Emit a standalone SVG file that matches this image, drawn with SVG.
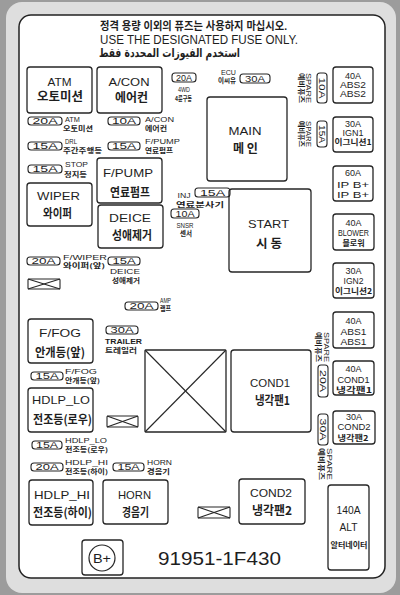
<svg xmlns="http://www.w3.org/2000/svg" width="400" height="595" viewBox="0 0 400 595">
<style>
.bx{fill:none;stroke:#262626;stroke-width:1.3}
.fu{fill:none;stroke:#262626;stroke-width:1.1}
.ln{stroke:#262626;stroke-width:1.1}
text{font-family:"Liberation Sans","Noto Sans CJK KR",sans-serif;fill:#1e1e1e}
.c{text-anchor:middle}
.e{text-anchor:end}
.L{font-size:11.5px}
.K{font-size:12px;font-weight:bold;font-family:"Noto Sans CJK KR",sans-serif}
.m{font-size:9px;text-anchor:middle}
.mk{font-size:7.5px;font-weight:bold;font-family:"Noto Sans CJK KR",sans-serif;text-anchor:middle}
.ft{font-size:8.5px;text-anchor:middle}
.s{font-size:6.5px}
.sk{font-size:6.3px;font-weight:bold;font-family:"Noto Sans CJK KR",sans-serif}
</style>
<rect x="0" y="0" width="400" height="595" fill="#9c9c9c"/>
<rect x="6" y="2" width="390" height="591" rx="16" fill="#dedede"/>
<rect x="19" y="15" width="366" height="563" rx="12" fill="#fff" stroke="#222" stroke-width="1.5"/>

<g id="header">
<text class="c" x="193.5" y="30" font-size="11" font-family="Noto Sans CJK KR,sans-serif" font-weight="bold" textLength="187" lengthAdjust="spacingAndGlyphs">정격 용량 이외의 퓨즈는 사용하지 마십시오.</text>
<text class="c" x="199" y="43.5" font-size="12" fill="#333" textLength="198" lengthAdjust="spacingAndGlyphs">USE THE DESIGNATED FUSE ONLY.</text>
<text class="c" x="169.5" y="56.5" font-size="12" font-weight="bold" style="font-family:'DejaVu Sans',sans-serif" textLength="141" lengthAdjust="spacingAndGlyphs">استخدم الفيوزات المحددة فقط</text>
</g>

<g id="connectors"></g>

<!-- big boxes -->
<g id="atm"><rect class="bx" x="27" y="67" width="65" height="46" rx="3"/>
<text class="c L" x="59.5" y="86" textLength="24" lengthAdjust="spacingAndGlyphs">ATM</text>
<text class="c K" x="60" y="100.6" textLength="46" lengthAdjust="spacingAndGlyphs">오토미션</text></g>
<g id="acon"><rect class="bx" x="97" y="67" width="65" height="46" rx="3"/>
<text class="c L" x="129" y="86" textLength="41" lengthAdjust="spacingAndGlyphs">A/CON</text>
<text class="c K" x="131.5" y="101.5" textLength="33" lengthAdjust="spacingAndGlyphs">에어컨</text></g>
<g id="fpump"><rect class="bx" x="97" y="158" width="65" height="45" rx="3"/>
<text class="c L" x="128" y="177" textLength="50" lengthAdjust="spacingAndGlyphs">F/PUMP</text>
<text class="c K" x="130" y="196.5" textLength="40" lengthAdjust="spacingAndGlyphs">연료펌프</text></g>
<g id="wiper"><rect class="bx" x="27" y="183" width="65" height="43" rx="3"/>
<text class="c L" x="58.5" y="200" textLength="43" lengthAdjust="spacingAndGlyphs">WIPER</text>
<text class="c K" x="57.5" y="217.5" textLength="29" lengthAdjust="spacingAndGlyphs">와이퍼</text></g>
<g id="deice"><rect class="bx" x="98" y="205" width="65" height="43" rx="3"/>
<text class="c L" x="130" y="222" textLength="42" lengthAdjust="spacingAndGlyphs">DEICE</text>
<text class="c K" x="132" y="239.5" textLength="40" lengthAdjust="spacingAndGlyphs">성애제거</text></g>
<g id="main"><rect class="bx" x="207" y="97" width="80" height="84" rx="3"/>
<text class="c L" x="245" y="135" textLength="33" lengthAdjust="spacingAndGlyphs">MAIN</text>
<text class="c K" x="245.5" y="152.5" textLength="25" lengthAdjust="spacingAndGlyphs">메 인</text></g>
<g id="start"><rect class="bx" x="229" y="189" width="82" height="83" rx="3"/>
<text class="c L" x="268.5" y="228" textLength="41" lengthAdjust="spacingAndGlyphs">START</text>
<text class="c K" x="269" y="247.5" textLength="26" lengthAdjust="spacingAndGlyphs">시 동</text></g>
<g id="ffog"><rect class="bx" x="28" y="319" width="65" height="44" rx="3"/>
<text class="c L" x="60" y="337" textLength="42" lengthAdjust="spacingAndGlyphs">F/FOG</text>
<text class="c K" x="60" y="356.5" textLength="50" lengthAdjust="spacingAndGlyphs">안개등(앞)</text></g>
<g id="hdlp-lo"><rect class="bx" x="28" y="388" width="65" height="44" rx="3"/>
<text class="c L" x="61" y="404" textLength="58" lengthAdjust="spacingAndGlyphs">HDLP_LO</text>
<text class="c K" x="62.5" y="423.5" textLength="59" lengthAdjust="spacingAndGlyphs">전조등(로우)</text></g>
<g id="hdlp-hi"><rect class="bx" x="29" y="480" width="64" height="45" rx="3"/>
<text class="c L" x="62" y="499" textLength="56" lengthAdjust="spacingAndGlyphs">HDLP_HI</text>
<text class="c K" x="62.5" y="516.5" textLength="59" lengthAdjust="spacingAndGlyphs">전조등(하이)</text></g>
<g id="horn"><rect class="bx" x="103" y="480" width="65" height="44" rx="3"/>
<text class="c L" x="134.5" y="499" textLength="33" lengthAdjust="spacingAndGlyphs">HORN</text>
<text class="c K" x="135.5" y="516.5" textLength="27" lengthAdjust="spacingAndGlyphs">경음기</text></g>
<g id="cond2"><rect class="bx" x="239" y="479" width="66" height="45" rx="3"/>
<text class="c L" x="271" y="497" textLength="42" lengthAdjust="spacingAndGlyphs">COND2</text>
<text class="c K" x="272" y="514.5" textLength="40" lengthAdjust="spacingAndGlyphs">냉각팬2</text></g>
<g id="cond1"><rect class="bx" x="231" y="350" width="80" height="82" rx="3"/>
<text class="c L" x="270" y="387" textLength="40" lengthAdjust="spacingAndGlyphs">COND1</text>
<text class="c K" x="272.5" y="404.5" textLength="35" lengthAdjust="spacingAndGlyphs">냉각팬1</text></g>
<g id="blank-relay"><rect class="bx" x="145" y="350" width="81" height="82" rx="1"/>
<line class="ln" x1="145" y1="350" x2="226" y2="432"/><line class="ln" x1="226" y1="350" x2="145" y2="432"/></g>

<!-- right column -->
<g id="abs2"><rect class="bx" x="333" y="67" width="40" height="36" rx="3"/>
<text class="m" x="353" y="78.5">40A</text>
<text class="m" x="353" y="87.8" textLength="26" lengthAdjust="spacingAndGlyphs">ABS2</text>
<text class="m" x="353" y="97" textLength="26" lengthAdjust="spacingAndGlyphs">ABS2</text></g>
<g id="ign1"><rect class="bx" x="333" y="117" width="40" height="35" rx="3"/>
<text class="m" x="353" y="126.5">30A</text>
<text class="m" x="353" y="135.5" textLength="21" lengthAdjust="spacingAndGlyphs">IGN1</text>
<text class="mk" x="353" y="145" textLength="37" lengthAdjust="spacingAndGlyphs">이그니션1</text></g>
<g id="ipb"><rect class="bx" x="333" y="166" width="40" height="35" rx="3"/>
<text class="m" x="353" y="176">60A</text>
<text class="m" x="353" y="187.5" textLength="32" lengthAdjust="spacingAndGlyphs">IP B+</text>
<text class="m" x="353" y="197.5" textLength="32" lengthAdjust="spacingAndGlyphs">IP B+</text></g>
<g id="blower"><rect class="bx" x="333" y="214" width="41" height="36" rx="3"/>
<text class="m" x="353.5" y="225.5">40A</text>
<text class="m" x="353.5" y="235.5" textLength="31" lengthAdjust="spacingAndGlyphs">BLOWER</text>
<text class="mk" x="353.5" y="245.5" textLength="22" lengthAdjust="spacingAndGlyphs">블로워</text></g>
<g id="ign2"><rect class="bx" x="333" y="263" width="41" height="35" rx="3"/>
<text class="m" x="353.5" y="273.5">30A</text>
<text class="m" x="353.5" y="283.5" textLength="20" lengthAdjust="spacingAndGlyphs">IGN2</text>
<text class="mk" x="353.5" y="293.5" textLength="37" lengthAdjust="spacingAndGlyphs">이그니션2</text></g>
<g id="abs1"><rect class="bx" x="333" y="312" width="41" height="36" rx="3"/>
<text class="m" x="353.5" y="323.5">40A</text>
<text class="m" x="353.5" y="334.5" textLength="26" lengthAdjust="spacingAndGlyphs">ABS1</text>
<text class="m" x="353.5" y="345.3" textLength="26" lengthAdjust="spacingAndGlyphs">ABS1</text></g>
<g id="cond1-fuse"><rect class="bx" x="333" y="361" width="41" height="34" rx="3"/>
<text class="m" x="353.5" y="372">40A</text>
<text class="m" x="353.5" y="382.5" textLength="32" lengthAdjust="spacingAndGlyphs">COND1</text>
<text class="mk" x="354" y="392.5" textLength="36" lengthAdjust="spacingAndGlyphs">냉각팬1</text></g>
<g id="cond2-fuse"><rect class="bx" x="333" y="411" width="42" height="33" rx="3"/>
<text class="m" x="354" y="420">30A</text>
<text class="m" x="354" y="430.2" textLength="33" lengthAdjust="spacingAndGlyphs">COND2</text>
<text class="mk" x="353" y="441" textLength="31" lengthAdjust="spacingAndGlyphs">냉각팬2</text></g>
<g id="alt"><rect class="bx" x="328" y="485" width="41" height="85" rx="3"/>
<text class="c" x="348.5" y="514" font-size="11" textLength="24" lengthAdjust="spacingAndGlyphs">140A</text>
<text class="c" x="348.5" y="531" font-size="11" textLength="18" lengthAdjust="spacingAndGlyphs">ALT</text>
<text class="mk" x="349" y="548" textLength="37" lengthAdjust="spacingAndGlyphs">알터네이터</text></g>

<!-- spare vertical fuses -->
<g id="spare-10a"><rect class="fu" x="317" y="73" width="10" height="30" rx="3"/>
<text class="ft" transform="translate(319.2 88) rotate(90)" textLength="21" lengthAdjust="spacingAndGlyphs">10A</text>
<text class="s c" transform="translate(306 88) rotate(90)" textLength="30" lengthAdjust="spacingAndGlyphs">SPARE</text>
<text class="sk c" transform="translate(298.5 88) rotate(90)" textLength="30" lengthAdjust="spacingAndGlyphs">예비퓨즈</text></g>
<g id="spare-15a"><rect class="fu" x="317" y="121" width="10" height="26" rx="3"/>
<text class="ft" transform="translate(319.2 134) rotate(90)" textLength="18" lengthAdjust="spacingAndGlyphs">15A</text>
<text class="s c" transform="translate(306 134) rotate(90)" textLength="26" lengthAdjust="spacingAndGlyphs">SPARE</text>
<text class="sk c" transform="translate(298.5 134) rotate(90)" textLength="26" lengthAdjust="spacingAndGlyphs">예비퓨즈</text></g>
<g id="spare-20a"><rect class="fu" x="318" y="365" width="10" height="32" rx="3"/>
<text class="ft" transform="translate(320.2 381) rotate(90)" textLength="22" lengthAdjust="spacingAndGlyphs">20A</text>
<text class="s c" transform="translate(324 347) rotate(90)" textLength="30" lengthAdjust="spacingAndGlyphs">SPARE</text>
<text class="sk c" transform="translate(315.5 347) rotate(90)" textLength="30" lengthAdjust="spacingAndGlyphs">예비퓨즈</text></g>
<g id="spare-30a"><rect class="fu" x="318" y="414" width="10" height="31" rx="3"/>
<text class="ft" transform="translate(320.2 429.5) rotate(90)" textLength="22" lengthAdjust="spacingAndGlyphs">30A</text>
<text class="s c" transform="translate(326.5 464) rotate(90)" textLength="32" lengthAdjust="spacingAndGlyphs">SPARE</text>
<text class="sk c" transform="translate(318.5 464) rotate(90)" textLength="32" lengthAdjust="spacingAndGlyphs">예비퓨즈</text></g>

<!-- small fuses -->
<g id="f-4wd"><rect class="fu" x="172" y="73" width="24" height="9" rx="3"/>
<text class="ft" x="184" y="80.5" textLength="16" lengthAdjust="spacingAndGlyphs">20A</text>
<text class="s c" x="184" y="92" textLength="12" lengthAdjust="spacingAndGlyphs">4WD</text>
<text class="sk c" x="183.5" y="101" textLength="17" lengthAdjust="spacingAndGlyphs">4륜구동</text></g>
<g id="f-ecu"><rect class="fu" x="240" y="74" width="30" height="9" rx="3"/>
<text class="ft" x="255" y="81.5" textLength="20" lengthAdjust="spacingAndGlyphs">30A</text>
<text class="s e" x="236" y="74.5" textLength="15" lengthAdjust="spacingAndGlyphs">ECU</text>
<text class="sk e" x="236" y="83" textLength="18" lengthAdjust="spacingAndGlyphs">이씨유</text></g>
<g id="f-atm"><rect class="fu" x="28" y="117" width="34" height="8" rx="3"/>
<text class="ft" x="45" y="124" textLength="25" lengthAdjust="spacingAndGlyphs">20A</text>
<text class="s" x="65" y="121.5" textLength="15" lengthAdjust="spacingAndGlyphs">ATM</text>
<text class="sk" x="63" y="130.5" textLength="30" lengthAdjust="spacingAndGlyphs">오토미션</text></g>
<g id="f-acon"><rect class="fu" x="108" y="117" width="32" height="8" rx="3"/>
<text class="ft" x="124" y="124" textLength="24" lengthAdjust="spacingAndGlyphs">10A</text>
<text class="s" x="145" y="121.5" textLength="29" lengthAdjust="spacingAndGlyphs">A/CON</text>
<text class="sk" x="145" y="130.5" textLength="22" lengthAdjust="spacingAndGlyphs">에어컨</text></g>
<g id="f-drl"><rect class="fu" x="28" y="142" width="34" height="8" rx="3"/>
<text class="ft" x="45" y="149" textLength="25" lengthAdjust="spacingAndGlyphs">15A</text>
<text class="s" x="65" y="144" textLength="12" lengthAdjust="spacingAndGlyphs">DRL</text>
<text class="sk" x="63" y="153" textLength="39" lengthAdjust="spacingAndGlyphs">주간주행등</text></g>
<g id="f-fpump"><rect class="fu" x="108" y="142" width="32" height="8" rx="3"/>
<text class="ft" x="124" y="149" textLength="24" lengthAdjust="spacingAndGlyphs">15A</text>
<text class="s" x="145" y="144" textLength="35" lengthAdjust="spacingAndGlyphs">F/PUMP</text>
<text class="sk" x="145" y="153" textLength="28" lengthAdjust="spacingAndGlyphs">연료펌프</text></g>
<g id="f-stop"><rect class="fu" x="28" y="165" width="34" height="8" rx="3"/>
<text class="ft" x="45" y="172" textLength="25" lengthAdjust="spacingAndGlyphs">15A</text>
<text class="s" x="65" y="167" textLength="23" lengthAdjust="spacingAndGlyphs">STOP</text>
<text class="sk" x="64" y="176.5" textLength="23" lengthAdjust="spacingAndGlyphs">정지등</text></g>
<g id="f-inj"><rect class="fu" x="195" y="188" width="35" height="9" rx="3"/>
<text class="ft" x="212.5" y="195.5" textLength="25" lengthAdjust="spacingAndGlyphs">15A</text>
<text class="s c" x="184" y="198" textLength="13" lengthAdjust="spacingAndGlyphs">INJ</text>
<text class="sk c" x="200" y="207" textLength="48" lengthAdjust="spacingAndGlyphs">연료분사기</text></g>
<g id="f-snsr"><rect class="fu" x="171" y="209" width="28" height="9" rx="3"/>
<text class="ft" x="185" y="216.5" textLength="19" lengthAdjust="spacingAndGlyphs">10A</text>
<text class="s c" x="185" y="227.5" textLength="17" lengthAdjust="spacingAndGlyphs">SNSR</text>
<text class="sk c" x="186" y="236" textLength="12" lengthAdjust="spacingAndGlyphs">센서</text></g>
<g id="f-fwiper"><rect class="fu" x="27" y="257" width="33" height="8" rx="3"/>
<text class="ft" x="43.5" y="264" textLength="24" lengthAdjust="spacingAndGlyphs">20A</text>
<text class="s" x="63" y="259.5" textLength="44" lengthAdjust="spacingAndGlyphs">F/WIPER</text>
<text class="sk" x="63" y="268" textLength="42" lengthAdjust="spacingAndGlyphs">와이퍼(앞)</text></g>
<g id="f-deice"><rect class="fu" x="108" y="257" width="32" height="8" rx="3"/>
<text class="ft" x="124" y="264" textLength="23" lengthAdjust="spacingAndGlyphs">15A</text>
<text class="s c" x="125" y="273.5" textLength="30" lengthAdjust="spacingAndGlyphs">DEICE</text>
<text class="sk c" x="126" y="282.5" textLength="28" lengthAdjust="spacingAndGlyphs">성애제거</text></g>
<g id="f-amp"><rect class="fu" x="125" y="302" width="33" height="8" rx="3"/>
<text class="ft" x="141.5" y="309" textLength="24" lengthAdjust="spacingAndGlyphs">20A</text>
<text class="s" x="160" y="302.5" textLength="11" lengthAdjust="spacingAndGlyphs">AMP</text>
<text class="sk" x="160" y="311" textLength="11" lengthAdjust="spacingAndGlyphs">램프</text></g>
<g id="f-trailer"><rect class="fu" x="106" y="326" width="32" height="8" rx="3"/>
<text class="ft" x="122" y="333" textLength="23" lengthAdjust="spacingAndGlyphs">30A</text>
<text class="s" x="105" y="343.5" font-weight="bold" textLength="37" lengthAdjust="spacingAndGlyphs">TRAILER</text>
<text class="sk" x="105" y="353" textLength="32" lengthAdjust="spacingAndGlyphs">트레일러</text></g>
<g id="f-ffog"><rect class="fu" x="31" y="372" width="32" height="8" rx="3"/>
<text class="ft" x="47" y="379" textLength="23" lengthAdjust="spacingAndGlyphs">15A</text>
<text class="s" x="65" y="373.5" textLength="32" lengthAdjust="spacingAndGlyphs">F/FOG</text>
<text class="sk" x="65" y="382.5" textLength="35" lengthAdjust="spacingAndGlyphs">안개등(앞)</text></g>
<g id="f-hdlplo"><rect class="fu" x="32" y="441" width="30" height="8" rx="3"/>
<text class="ft" x="47" y="448" textLength="22" lengthAdjust="spacingAndGlyphs">15A</text>
<text class="s" x="65" y="442.5" textLength="42" lengthAdjust="spacingAndGlyphs">HDLP_LO</text>
<text class="sk" x="65" y="451.5" textLength="43" lengthAdjust="spacingAndGlyphs">전조등(로우)</text></g>
<g id="f-hdlphi"><rect class="fu" x="31" y="463" width="32" height="8" rx="3"/>
<text class="ft" x="47" y="470" textLength="23" lengthAdjust="spacingAndGlyphs">20A</text>
<text class="s" x="65" y="464.5" textLength="43" lengthAdjust="spacingAndGlyphs">HDLP_HI</text>
<text class="sk" x="65" y="473.5" textLength="43" lengthAdjust="spacingAndGlyphs">전조등(하이)</text></g>
<g id="f-horn"><rect class="fu" x="113" y="463" width="31" height="8" rx="3"/>
<text class="ft" x="128.5" y="470" textLength="22" lengthAdjust="spacingAndGlyphs">15A</text>
<text class="s" x="147" y="464.5" textLength="25" lengthAdjust="spacingAndGlyphs">HORN</text>
<text class="sk" x="147" y="473.5" textLength="23" lengthAdjust="spacingAndGlyphs">경음기</text></g>

<!-- small crossed blanks -->
<g id="x1"><rect class="fu" x="28" y="279" width="32" height="10" rx="1"/>
<line class="ln" x1="28" y1="279" x2="60" y2="289"/><line class="ln" x1="60" y1="279" x2="28" y2="289"/></g>
<g id="x2"><rect class="fu" x="107" y="416" width="31" height="11" rx="1"/>
<line class="ln" x1="107" y1="416" x2="138" y2="427"/><line class="ln" x1="138" y1="416" x2="107" y2="427"/></g>
<g id="x3"><rect class="fu" x="198" y="507" width="32" height="11" rx="1"/>
<line class="ln" x1="198" y1="507" x2="230" y2="518"/><line class="ln" x1="230" y1="507" x2="198" y2="518"/></g>

<g id="bplus"><rect class="bx" x="82" y="540" width="41" height="35" rx="3"/>
<circle cx="102" cy="558" r="13" fill="none" stroke="#262626" stroke-width="1.2"/>
<text class="c" x="102" y="563" font-size="13" textLength="18" lengthAdjust="spacingAndGlyphs">B+</text></g>
<g id="partno"><text class="c" x="219.5" y="565" font-size="18" textLength="123" lengthAdjust="spacingAndGlyphs">91951-1F430</text></g>
</svg>
